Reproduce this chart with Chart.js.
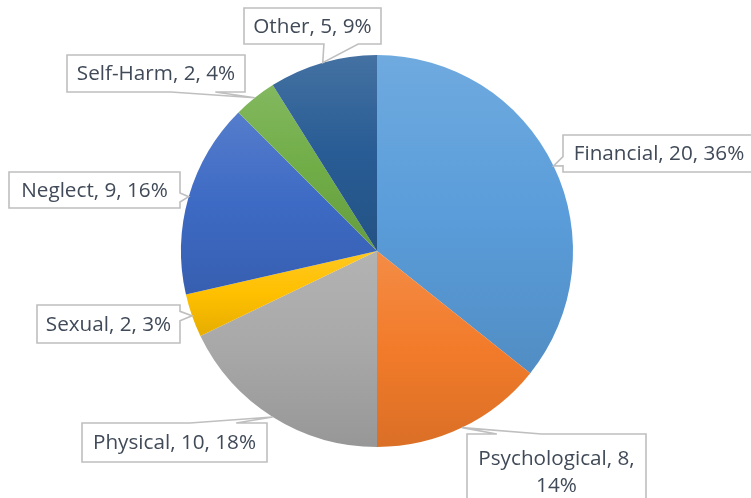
<!DOCTYPE html>
<html>
<head>
<meta charset="utf-8">
<script src="https://cdn.jsdelivr.net/npm/chart.js@4.4.1/dist/chart.umd.min.js"></script>
<style>
  html, body { margin: 0; padding: 0; background: #fff; overflow: hidden; }
</style>
</head>
<body>
<canvas id="myChart" width="751" height="498"></canvas>
<script>
// datos del grafico
const categories = ['Financial', 'Psychological', 'Physical', 'Sexual', 'Neglect', 'Self-Harm', 'Other'];
const counts = [20, 8, 10, 2, 9, 2, 5];
const percents = ['36%', '14%', '18%', '3%', '16%', '4%', '9%'];
const baseColors = ['#5A9DDA', '#F27B2A', '#A8A8A8', '#FFC000', '#3D6AC4', '#70AD47', '#285C94'];

// cajas de etiquetas: offset desde el centro del pie + ancho/alto
const labelBoxes = [
  [186, -116, 192, 37],
  [90, 183, 179, 76],
  [-295, 172, 185, 39],
  [-340, 54, 143, 38],
  [-368, -79, 171, 36],
  [-310, -196, 178, 37],
  [-133, -243, 137, 36]
];

function mix(hex, t, target) {
  const n = parseInt(hex.slice(1), 16);
  const c = [(n >> 16) & 255, (n >> 8) & 255, n & 255].map(v => Math.round(v + (target - v) * t));
  return 'rgb(' + c.join(',') + ')';
}

// gradiente vertical por cada porcion (estilo Excel)
function sliceFill(context) {
  const chart = context.chart;
  const area = chart.chartArea;
  const i = context.dataIndex;
  if (!area) return baseColors[i];
  const cx = (area.left + area.right) / 2, cy = (area.top + area.bottom) / 2;
  const r = Math.min(area.width, area.height) / 2;
  const total = counts.reduce((a, b) => a + b, 0);
  let before = 0;
  for (let k = 0; k < i; k++) before += counts[k];
  const a0 = -Math.PI / 2 + before / total * 2 * Math.PI;
  const a1 = a0 + counts[i] / total * 2 * Math.PI;
  let ymin = cy, ymax = cy;
  for (let s = 0; s <= 60; s++) {
    const y = cy + r * Math.sin(a0 + (a1 - a0) * s / 60);
    ymin = Math.min(ymin, y);
    ymax = Math.max(ymax, y);
  }
  const g = chart.ctx.createLinearGradient(0, ymin, 0, ymax);
  g.addColorStop(0, mix(baseColors[i], 0.13, 255));
  g.addColorStop(0.5, baseColors[i]);
  g.addColorStop(1, mix(baseColors[i], 0.1, 0));
  return g;
}

const calloutPlugin = {
  id: 'callouts',
  afterDatasetsDraw(chart) {
    const ctx = chart.ctx;
    const arcs = chart.getDatasetMeta(0).data;
    ctx.save();
    ctx.font = '20.7px "Open Sans"';
    ctx.textAlign = 'center';
    ctx.textBaseline = 'middle';
    arcs.forEach((arc, i) => {
      const p = arc.getProps(['x', 'y', 'startAngle', 'endAngle', 'outerRadius'], true);
      const mid = (p.startAngle + p.endAngle) / 2;
      const tx = p.x + Math.cos(mid) * p.outerRadius;
      const ty = p.y + Math.sin(mid) * p.outerRadius;
      const [ox, oy, w, h] = labelBoxes[i];
      const l = p.x + ox, t = p.y + oy, r = l + w, b = t + h;
      const dx = (tx - (l + w / 2)) / w, dy = (ty - (t + h / 2)) / h;
      let pts;
      if (Math.abs(dx) > Math.abs(dy)) {
        const y1 = dy > 0 ? h * 7 / 12 : h * 2 / 12, y2 = dy > 0 ? h * 10 / 12 : h * 5 / 12;
        if (dx > 0) pts = [[l, t], [r, t], [r, t + y1], [tx, ty], [r, t + y2], [r, b], [l, b]];
        else pts = [[l, t], [r, t], [r, b], [l, b], [l, t + y2], [tx, ty], [l, t + y1]];
      } else {
        const x1 = dx > 0 ? w * 7 / 12 : w * 2 / 12, x2 = dx > 0 ? w * 10 / 12 : w * 5 / 12;
        if (dy < 0) pts = [[l, t], [l + x1, t], [tx, ty], [l + x2, t], [r, t], [r, b], [l, b]];
        else pts = [[l, t], [r, t], [r, b], [l + x2, b], [tx, ty], [l + x1, b], [l, b]];
      }
      ctx.beginPath();
      pts.forEach((q, k) => k ? ctx.lineTo(q[0], q[1]) : ctx.moveTo(q[0], q[1]));
      ctx.closePath();
      ctx.fillStyle = '#ffffff';
      ctx.fill();
      ctx.strokeStyle = '#bfbfbf';
      ctx.lineWidth = 1.6;
      ctx.stroke();

      // texto con salto de linea si no cabe
      const text = categories[i] + ', ' + counts[i] + ', ' + percents[i];
      const words = text.split(' ');
      const lines = [];
      let cur = '';
      words.forEach(wd => {
        const test = cur ? cur + ' ' + wd : wd;
        if (cur && ctx.measureText(test).width > w - 8) { lines.push(cur); cur = wd; }
        else cur = test;
      });
      lines.push(cur);
      const lh = 27;
      const y0 = t + h / 2 - (lines.length - 1) * lh / 2 + 1;
      ctx.fillStyle = '#404a58';
      lines.forEach((ln, k) => ctx.fillText(ln, l + w / 2, y0 + k * lh));
    });
    ctx.restore();
  }
};

const myChart = new Chart(document.getElementById('myChart'), {
  type: 'pie',
  data: {
    labels: categories,
    datasets: [{
      data: counts,
      backgroundColor: sliceFill,
      borderWidth: 0
    }]
  },
  options: {
    responsive: false,
    animation: false,
    layout: { padding: { left: 181, right: 178, top: 55, bottom: 51 } },
    plugins: {
      legend: { display: false },
      tooltip: { enabled: false }
    }
  },
  plugins: [calloutPlugin]
});
</script>
</body>
</html>
